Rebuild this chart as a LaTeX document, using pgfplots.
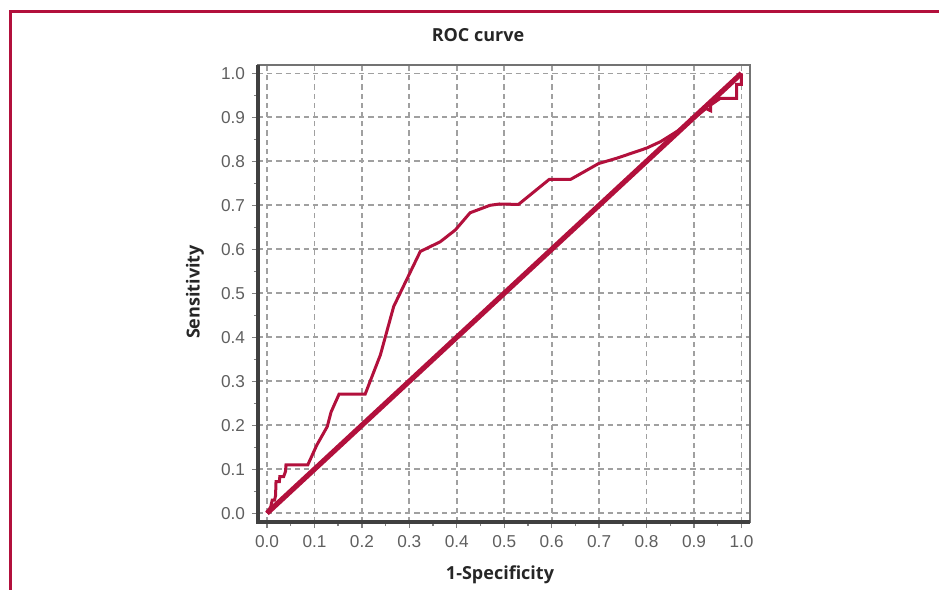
\documentclass[border=0pt]{standalone}
\usepackage{fontspec}
\setmainfont{Liberation Sans}
\newfontfamily\titlefont{Open Sans}
\usepackage{pgfplots}
\pgfplotsset{compat=1.18}
\definecolor{crim}{RGB}{178,16,60}
\definecolor{ticklab}{RGB}{95,95,95}
\definecolor{gridc}{RGB}{160,160,160}
\begin{document}
\begin{tikzpicture}
\path[use as bounding box] (0pt,0pt) rectangle (469.5pt,295pt);
\draw[crim,line width=1.5pt] (5.25pt,0pt) -- (5.25pt,289pt) -- (469.5pt,289pt);
\node[font=\titlefont\bfseries\fontsize{9}{10}\selectfont,text=black!85] at (239pt,277.5pt) {ROC curve};
\node[font=\titlefont\bfseries\fontsize{9}{10}\selectfont,text=black!85] at (250pt,7.5pt) {1-Specificity};
\node[font=\titlefont\bfseries\fontsize{9}{10}\selectfont,text=black!85,rotate=90] at (97.5pt,149pt) {Sensitivity};
\begin{axis}[
  at={(129pt,34pt)}, anchor=south west,
  scale only axis, width=246pt, height=228.5pt,
  xmin=-0.019, xmax=1.018, ymin=-0.02, ymax=1.019,
  xtick={0,0.1,...,1.0}, ytick={0,0.1,...,1.0},
  minor tick num=1,
  xticklabel style={/pgf/number format/.cd,fixed,fixed zerofill,precision=1},
  yticklabel style={/pgf/number format/.cd,fixed,fixed zerofill,precision=1},
  /pgf/number format/assume math mode=true,
  ticklabel style={font=\fontsize{8.6}{9}\selectfont,text=ticklab},
  tick align=outside, major tick length=3pt, minor tick length=2pt,
  tick style={gridc!80!black,line width=0.7pt},
  xtick pos=bottom, ytick pos=left,
  grid=major,
  major grid style={gridc,line width=0.85pt,dash pattern=on 2.6pt off 2pt},
  axis line style={draw=none},
  clip=false,
]
\addplot[crim,line width=2.6pt] coordinates {(0,0) (1,1)};
\addplot[crim,line width=1.5pt,line join=miter] coordinates {
(0,0) (0.008,0.015) (0.011,0.03) (0.016,0.03) (0.018,0.04) (0.019,0.072)
(0.026,0.072) (0.027,0.083) (0.035,0.083) (0.039,0.095) (0.040,0.11)
(0.086,0.11) (0.105,0.155) (0.127,0.197) (0.135,0.23) (0.152,0.271)
(0.207,0.271) (0.239,0.36) (0.267,0.47) (0.323,0.595) (0.365,0.617)
(0.397,0.644) (0.428,0.683) (0.47,0.70) (0.49,0.703) (0.53,0.702)
(0.595,0.759) (0.64,0.759) (0.699,0.795) (0.737,0.807) (0.80,0.83)
(0.83,0.845) (0.87,0.872) (0.925,0.92) (0.935,0.915) (0.935,0.928)
(0.955,0.943) (0.99,0.943) (0.99,0.975) (1.0,0.975) (1.0,1.0)};
\end{axis}
\draw[black!55,line width=1pt] (129pt,34pt) rectangle (375pt,262.5pt);
\draw[black!75,line width=1.6pt] (129pt,262.5pt) -- (129pt,34pt) -- (375pt,34pt);
\end{tikzpicture}
\end{document}
